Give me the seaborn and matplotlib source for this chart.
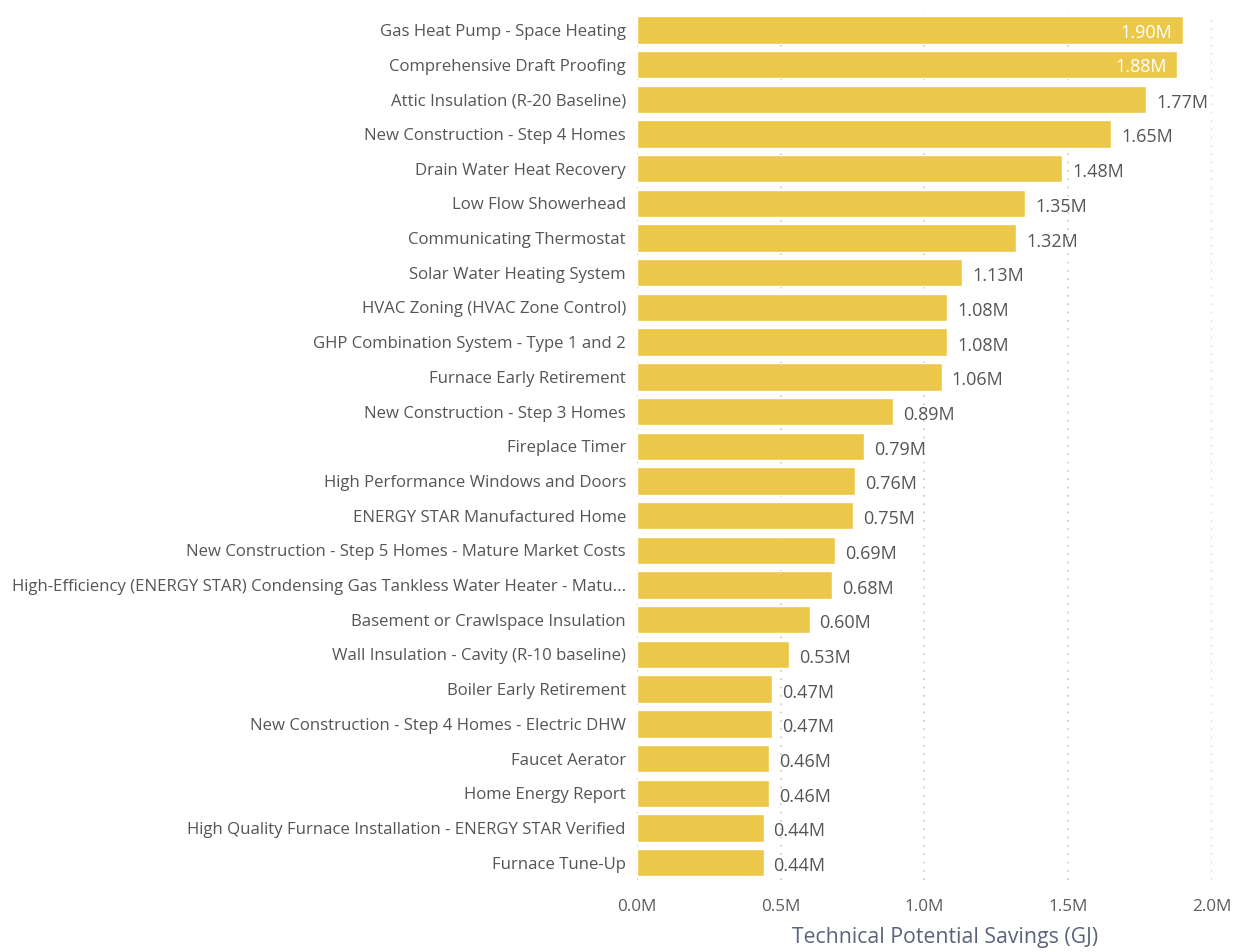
import matplotlib
matplotlib.use("Agg")
import matplotlib.pyplot as plt
import seaborn as sns
import pandas as pd

measures = [
    "Gas Heat Pump - Space Heating",
    "Comprehensive Draft Proofing",
    "Attic Insulation (R-20 Baseline)",
    "New Construction - Step 4 Homes",
    "Drain Water Heat Recovery",
    "Low Flow Showerhead",
    "Communicating Thermostat",
    "Solar Water Heating System",
    "HVAC Zoning (HVAC Zone Control)",
    "GHP Combination System - Type 1 and 2",
    "Furnace Early Retirement",
    "New Construction - Step 3 Homes",
    "Fireplace Timer",
    "High Performance Windows and Doors",
    "ENERGY STAR Manufactured Home",
    "New Construction - Step 5 Homes - Mature Market Costs",
    "High-Efficiency (ENERGY STAR) Condensing Gas Tankless Water Heater - Matu...",
    "Basement or Crawlspace Insulation",
    "Wall Insulation - Cavity (R-10 baseline)",
    "Boiler Early Retirement",
    "New Construction - Step 4 Homes - Electric DHW",
    "Faucet Aerator",
    "Home Energy Report",
    "High Quality Furnace Installation - ENERGY STAR Verified",
    "Furnace Tune-Up",
]
savings_m = [1.90, 1.88, 1.77, 1.65, 1.48, 1.35, 1.32, 1.13, 1.08, 1.08,
             1.06, 0.89, 0.79, 0.76, 0.75, 0.69, 0.68, 0.60, 0.53, 0.47,
             0.47, 0.46, 0.46, 0.44, 0.44]
x_ticks_m = [0.0, 0.5, 1.0, 1.5, 2.0]

df = pd.DataFrame({"measure": measures, "savings": [v * 1e6 for v in savings_m]})

sns.set_theme(style="white")
plt.rcParams["font.family"] = ["Open Sans", "DejaVu Sans"]

BAR = "#EBC84A"
TXT = "#555555"

fig = plt.figure(figsize=(12.4, 9.52), dpi=100)
ax = fig.add_axes([637 / 1240, 1 - 880 / 952, (1212 - 637) / 1240, (880 - 12.5) / 952])

sns.barplot(data=df, x="savings", y="measure", color=BAR, saturation=1,
            width=0.79, ax=ax, orient="h")

ax.set_xlim(0, 2.0e6)
ax.set_ylim(len(measures) - 0.5, -0.5)
ax.set_xticks([t * 1e6 for t in x_ticks_m])
ax.set_xticklabels([f"{t:.1f}M" for t in x_ticks_m], color="#605E5C", fontsize=12.3)
ax.tick_params(axis="x", length=0, pad=14)
ax.tick_params(axis="y", length=0, pad=8, labelsize=12.1, labelcolor=TXT)
ax.set_ylabel("")
ax.set_xlabel("")
fig.text(945 / 1240, 1 - 938 / 952, "Technical Potential Savings (GJ)",
         ha="center", va="center", fontsize=15.3, color="#5A6478")

for s in ax.spines.values():
    s.set_visible(False)
ax.set_axisbelow(True)
for t in x_ticks_m:
    ax.axvline(t * 1e6, color="#C8C8C8", linestyle=(0, (1, 4)), linewidth=1.2, zorder=0)

for i, v in enumerate(savings_m):
    label = f"{v:.2f}M"
    if v >= 1.85:
        ax.text(v * 1e6 - 0.038e6, i + 0.08, label, ha="right", va="center",
                color="white", fontsize=13)
    else:
        ax.text(v * 1e6 + 0.035e6, i + 0.1, label, ha="left", va="center",
                color=TXT, fontsize=13)

fig.savefig("out.png", dpi=100)
